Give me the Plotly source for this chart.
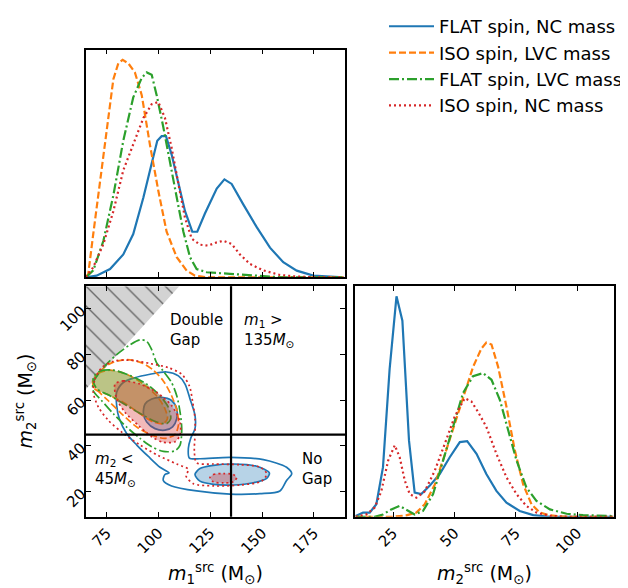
import plotly.graph_objects as go

# ---------------- series meta ----------------
labels = ["FLAT spin, NC mass", "ISO spin, LVC mass", "FLAT spin, LVC mass", "ISO spin, NC mass"]
colors = ["#1f77b4", "#ff7f0e", "#2ca02c", "#d62728"]
fills = ["rgba(31,119,180,0.32)", "rgba(255,127,14,0.32)", "rgba(44,160,44,0.32)", "rgba(214,39,40,0.32)"]
dashes = ["solid", "7px,3px", "10px,3px,2px,3px", "2px,3px"]

# ---------------- m1 marginals (relative density) ----------------
flat_nc_m1 = [65, 70.1, 76.6, 83.0, 87.8, 92.7, 96.7, 99.4, 101.5, 103.6, 106.3, 109.6, 112.8, 116.3, 118.7,
              122.4, 128.1, 131.8, 135.3, 140.9, 147.4, 153.8, 160.2, 166.7, 174.7, 189.2]
flat_nc_p1 = [0, .007, .036, .10, .19, .35, .50, .60, .62, .62, .54, .41, .29, .20, .20,
              .28, .39, .43, .41, .32, .22, .13, .066, .029, .007, 0]
iso_lvc_m1 = [65, 66.1, 68.5, 71.8, 75.0, 78.2, 80.6, 82.7, 85.4, 88.6, 91.9, 95.9, 99.9, 103.9, 108.8,
              113.6, 117.6, 123.2, 189.2]
iso_lvc_p1 = [0, .015, .19, .42, .65, .87, .94, .955, .94, .90, .80, .58, .38, .20, .088,
              .029, .007, 0, 0]
flat_lvc_m1 = [65, 68.5, 73.4, 78.2, 83.0, 87.8, 91.9, 94.3, 96.7, 99.1, 102.3, 105.5, 108.8, 112.0, 115.2,
               118.4, 123.2, 134.5, 145.8, 152.2, 158.6, 189.2]
flat_lvc_p1 = [0, .03, .16, .36, .60, .79, .876, .90, .89, .80, .66, .50, .35, .20, .088,
               .036, .022, .015, .007, .003, 0, 0]
iso_nc_m1 = [65, 68.5, 73.4, 78.2, 83.0, 87.8, 92.7, 96.7, 99.9, 103.1, 106.3, 109.6, 112.8, 116.0, 120.0,
             124.0, 128.1, 131.3, 135.3, 139.3, 144.2, 150.6, 158.6, 166.7, 174.7, 189.2]
iso_nc_p1 = [0, .044, .146, .29, .47, .58, .70, .76, .77, .70, .57, .41, .26, .17, .143,
             .139, .153, .16, .146, .10, .058, .03, .01, .003, 0, 0]

# ---------------- m2 marginals (relative density) ----------------
flat_nc_m2 = [9.8, 12.8, 15.5, 18.2, 20.9, 23.6, 26.4, 28.8, 31.5, 33.8, 36.5, 39.9, 44.0, 48.1, 52.2,
              55.2, 59.0, 63.0, 67.1, 71.2, 76.6, 82.1, 88.9, 114.7]
flat_nc_p2 = [.003, .018, .018, .054, .215, .64, .956, .85, .33, .105, .098, .134, .185, .258, .324,
              .328, .273, .185, .112, .061, .025, .007, 0, 0]
iso_lvc_m2 = [9.8, 25.0, 30.4, 34.5, 37.9, 42.0, 46.1, 50.1, 54.2, 57.6, 61.0, 63.0, 65.1, 67.8, 71.2,
              74.6, 78.0, 81.4, 84.8, 88.9, 95.7, 114.7]
iso_lvc_p2 = [0, 0, .006, .018, .054, .14, .27, .40, .536, .65, .73, .755, .747, .65, .477,
              .288, .14, .054, .018, .006, 0, 0]
flat_lvc_m2 = [9.8, 17.5, 20.9, 24.3, 27.7, 30.4, 33.8, 37.2, 41.3, 45.4, 49.5, 53.5, 57.6, 61.7, 65.1,
               68.5, 71.9, 75.3, 79.3, 83.4, 88.9, 95.7, 102.4, 109.2, 114.7]
flat_lvc_p2 = [0, 0, .01, .032, .047, .032, .01, .025, .098, .244, .39, .536, .61, .623, .594,
               .507, .375, .244, .127, .069, .032, .013, .007, .004, .003]
iso_nc_m2 = [9.8, 14.1, 17.5, 20.2, 23.0, 25.7, 27.7, 29.8, 31.8, 34.5, 37.9, 42.0, 46.1, 50.1, 54.2,
             56.9, 59.6, 63.0, 67.1, 71.2, 75.3, 79.3, 83.4, 88.9, 95.7, 114.7]
iso_nc_p2 = [0, .01, .04, .11, .244, .31, .258, .156, .098, .083, .11, .2, .317, .434, .514,
             .5, .455, .39, .273, .171, .098, .047, .018, .004, 0, 0]

# ---------------- 2D credible contours (m1, m2) ----------------
flat_nc_outer_m1 = [79.8, 83.0, 88.6, 95.9, 103.9, 109.6, 112.8, 115.2, 117.6, 117.6, 115.5, 114.4, 114.9, 120.0,
                    134.5, 150.6, 161.8, 164.3, 161.8, 158.6, 149.0, 134.5, 118.4, 106.3, 102.3, 103.1, 105.1,
                    100.7, 95.1, 89.5, 84.6, 81.1, 79.8, 79.8]
flat_nc_outer_m2 = [63.5, 67.8, 69.9, 71.4, 72.4, 70.7, 67.1, 60.6, 53.4, 47.6, 43.3, 39.0, 34.7, 34.4,
                    35.0, 34.0, 30.7, 27.8, 24.9, 20.3, 19.1, 18.9, 20.3, 22.5, 24.9, 27.5, 28.2,
                    30.7, 35.4, 40.4, 45.5, 51.9, 57.7, 63.5]
flat_nc_inner_a_m1 = [93.5, 96.7, 101.5, 106.3, 108.8, 108.8, 106.8, 103.1, 98.3, 94.3, 92.7, 93.5]
flat_nc_inner_a_m2 = [58.4, 60.6, 61.3, 59.9, 56.3, 51.9, 48.4, 46.9, 47.6, 50.5, 54.1, 58.4]
flat_nc_inner_b_m1 = [117.6, 120.0, 126.5, 136.1, 147.4, 153.5, 152.2, 145.8, 136.1, 126.5, 120.0, 117.6]
flat_nc_inner_b_m2 = [27.5, 30.1, 31.5, 32.1, 31.1, 28.2, 25.8, 23.9, 22.9, 23.2, 24.6, 27.5]

iso_lvc_outer_m1 = [68.5, 71.8, 77.4, 84.6, 91.9, 97.5, 102.3, 106.3, 109.1, 109.6, 108.0, 103.1, 96.7, 89.5,
                    82.2, 75.8, 70.1, 68.5]
iso_lvc_outer_m2 = [68.5, 72.8, 76.4, 77.8, 76.4, 73.2, 68.5, 62.0, 54.8, 49.1, 45.1, 43.3, 44.8, 48.3,
                    54.1, 59.8, 64.9, 68.5]
iso_lvc_inner_m1 = [68.2, 71.0, 76.6, 84.6, 92.7, 99.1, 103.1, 104.3, 102.3, 97.5, 91.1, 83.0, 75.0, 69.3, 68.2]
iso_lvc_inner_m2 = [68.5, 71.8, 73.2, 71.4, 67.1, 62.0, 56.3, 52.0, 49.8, 50.5, 54.1, 59.1, 62.7, 64.9, 68.5]

flat_lvc_outer_m1 = [68.5, 73.4, 79.8, 86.2, 91.1, 94.3, 96.7, 99.1, 102.3, 106.3, 108.8, 110.4, 111.2, 110.4,
                     108.0, 102.3, 96.7, 91.1, 84.6, 78.2, 72.6, 68.5, 68.5]
flat_lvc_outer_m2 = [67.8, 74.3, 80.0, 84.3, 86.5, 85.8, 82.2, 76.4, 72.8, 67.8, 62.0, 54.8, 47.6, 40.4,
                     37.9, 37.6, 39.7, 43.3, 48.3, 54.1, 59.8, 64.2, 67.8]
flat_lvc_inner_m1 = [68.5, 71.8, 78.2, 86.2, 94.3, 100.7, 104.7, 105.9, 103.9, 99.1, 92.7, 84.6, 76.6, 70.1, 68.5]
flat_lvc_inner_m2 = [69.9, 72.8, 73.2, 70.9, 67.1, 62.0, 57.0, 52.0, 49.8, 50.5, 53.4, 57.7, 62.0, 65.2, 69.9]

iso_nc_outer_m1 = [68.5, 69.3, 72.6, 78.2, 86.2, 95.9, 104.7, 111.2, 114.9, 116.5, 117.6, 117.6, 117.3, 118.4,
                   126.5, 139.3, 149.0, 152.2, 149.8, 139.3, 126.5, 116.8, 113.3, 114.4, 108.8, 99.9, 91.1,
                   83.0, 75.8, 71.0, 68.5]
iso_nc_outer_m2 = [63.5, 69.2, 74.3, 77.1, 77.6, 76.1, 74.3, 71.4, 66.3, 59.1, 51.9, 44.8, 37.6, 32.6,
                   32.1, 31.8, 30.7, 27.8, 24.6, 22.9, 22.5, 23.5, 26.8, 29.7, 32.1, 35.8, 40.4,
                   45.5, 51.2, 57.0, 63.5]
iso_nc_inner_a_m1 = [79.0, 83.0, 91.1, 99.1, 106.3, 110.4, 110.4, 108.0, 102.3, 96.7, 90.3, 83.8, 79.8, 79.0]
iso_nc_inner_a_m2 = [67.1, 68.5, 67.1, 63.5, 57.7, 50.5, 44.8, 41.9, 41.6, 44.0, 49.0, 54.8, 60.6, 67.1]
iso_nc_inner_b_m1 = [124.8, 126.5, 131.3, 136.1, 137.7, 136.1, 131.3, 126.5, 124.8]
iso_nc_inner_b_m2 = [26.1, 27.5, 27.9, 27.5, 26.1, 24.3, 23.8, 24.3, 26.1]

# ---------------- thresholds / axes ----------------
m1_gap = 135
m2_gap = 45
m1_range = [65, 190]
m2_range = [9, 110]
m2_marg_range = [9.5, 115]
m1_ticks = [75, 100, 125, 150, 175]
m2_ticks = [20, 40, 60, 80, 100]
m2_marg_ticks = [25, 50, 75, 100]

# page places the figure with an 8px body margin
W, H, OFF = 620, 580, 8


def px(x):
    return (x - OFF) / W


def py(y):
    return 1 - (y - OFF) / H


FONT = "DejaVu Sans"
fig = go.Figure()

# unphysical region m2 > m1 (hatched)
fig.add_trace(go.Scatter(
    x=[m1_range[0], m1_range[0], m2_range[1]], y=[m1_range[0], m2_range[1], m2_range[1]],
    mode="lines", fill="toself", line=dict(width=0, color="rgba(0,0,0,0)"),
    fillcolor="#d3d3d3",
    fillpattern=dict(shape="\\", bgcolor="#d3d3d3", fgcolor="black", size=14, solidity=0.1),
    showlegend=False, hoverinfo="skip", xaxis="x", yaxis="y"))

outer = [(flat_nc_outer_m1, flat_nc_outer_m2), (iso_lvc_outer_m1, iso_lvc_outer_m2),
         (flat_lvc_outer_m1, flat_lvc_outer_m2), (iso_nc_outer_m1, iso_nc_outer_m2)]
inner = [[(flat_nc_inner_a_m1, flat_nc_inner_a_m2), (flat_nc_inner_b_m1, flat_nc_inner_b_m2)],
         [(iso_lvc_inner_m1, iso_lvc_inner_m2)],
         [(flat_lvc_inner_m1, flat_lvc_inner_m2)],
         [(iso_nc_inner_a_m1, iso_nc_inner_a_m2), (iso_nc_inner_b_m1, iso_nc_inner_b_m2)]]

for i in range(4):
    for (cx, cy) in inner[i]:
        fig.add_trace(go.Scatter(x=cx, y=cy, mode="lines", fill="toself", fillcolor=fills[i],
                                 line=dict(color=colors[i], width=1.7, dash=dashes[i], shape="spline", smoothing=0.8),
                                 showlegend=False, hoverinfo="skip", xaxis="x", yaxis="y"))
    ox, oy = outer[i]
    fig.add_trace(go.Scatter(x=ox, y=oy, mode="lines",
                             line=dict(color=colors[i], width=1.7, dash=dashes[i], shape="spline", smoothing=0.8),
                             showlegend=False, hoverinfo="skip", xaxis="x", yaxis="y"))

m1_marg = [(flat_nc_m1, flat_nc_p1), (iso_lvc_m1, iso_lvc_p1), (flat_lvc_m1, flat_lvc_p1), (iso_nc_m1, iso_nc_p1)]
m2_marg = [(flat_nc_m2, flat_nc_p2), (iso_lvc_m2, iso_lvc_p2), (flat_lvc_m2, flat_lvc_p2), (iso_nc_m2, iso_nc_p2)]
for i in range(4):
    fig.add_trace(go.Scatter(x=m1_marg[i][0], y=m1_marg[i][1], mode="lines", name=labels[i],
                             line=dict(color=colors[i], width=2.2, dash=dashes[i]),
                             showlegend=True, xaxis="x2", yaxis="y2"))
    fig.add_trace(go.Scatter(x=m2_marg[i][0], y=m2_marg[i][1], mode="lines", name=labels[i],
                             line=dict(color=colors[i], width=2.2, dash=dashes[i]),
                             showlegend=False, xaxis="x3", yaxis="y3"))

axis_common = dict(showline=True, linecolor="black", linewidth=1.5, showgrid=False, zeroline=False,
                   tickfont=dict(family=FONT, size=15, color="black"))
tick_style = dict(ticks="inside", ticklen=5, tickwidth=1.2, tickcolor="black", mirror="allticks")

colL = [px(86), px(345)]
colR = [px(355), px(614)]
rowT = [py(274), py(44)]
rowB = [py(516), py(283)]

fig.update_layout(
    width=W, height=H, margin=dict(l=0, r=0, t=0, b=0, pad=0),
    paper_bgcolor="white", plot_bgcolor="white",
    font=dict(family=FONT, color="black"),
    xaxis=dict(domain=colL, anchor="y", range=m1_range, tickvals=m1_ticks, tickangle=-45,
               **axis_common, **tick_style),
    yaxis=dict(domain=rowB, anchor="x", range=m2_range, tickvals=m2_ticks, tickangle=-45,
               **axis_common, **tick_style),
    xaxis2=dict(domain=colL, anchor="y2", range=m1_range, tickvals=m1_ticks, showticklabels=False,
                **axis_common, **tick_style),
    yaxis2=dict(domain=rowT, anchor="x2", range=[0, 1], showticklabels=False, ticks="", mirror=True,
                **axis_common),
    xaxis3=dict(domain=colR, anchor="y3", range=m2_marg_range, tickvals=m2_marg_ticks, tickangle=-45,
                **axis_common, **tick_style),
    yaxis3=dict(domain=rowB, anchor="x3", range=[0, 1], showticklabels=False, ticks="", mirror=True,
                **axis_common),
    legend=dict(x=px(384), y=py(2), xanchor="left", yanchor="top", itemwidth=45,
                font=dict(family=FONT, size=18, color="black"), bgcolor="rgba(0,0,0,0)"),
    shapes=[
        dict(type="line", xref="x", yref="y domain", x0=m1_gap, x1=m1_gap, y0=0, y1=1,
             line=dict(color="black", width=2.2), layer="above"),
        dict(type="line", xref="x domain", yref="y", x0=0, x1=1, y0=m2_gap, y1=m2_gap,
             line=dict(color="black", width=2.2), layer="above"),
    ],
)

ann_font = dict(family=FONT, size=15, color="black")
fig.add_annotation(x=104.6, y=90.6, xref="x", yref="y", text="Double<br>Gap", showarrow=False,
                   xanchor="left", yanchor="middle", align="left", font=ann_font)
fig.add_annotation(x=140.3, y=90.6, xref="x", yref="y",
                   text="<i>m</i><sub>1</sub> &gt;<br>135<i>M</i><sub>⊙</sub>", showarrow=False,
                   xanchor="left", yanchor="middle", align="left", font=ann_font)
fig.add_annotation(x=68.4, y=29.8, xref="x", yref="y",
                   text="<i>m</i><sub>2</sub> &lt;<br>45<i>M</i><sub>⊙</sub>", showarrow=False,
                   xanchor="left", yanchor="middle", align="left", font=ann_font)
fig.add_annotation(x=168.3, y=29.8, xref="x", yref="y", text="No<br>Gap", showarrow=False,
                   xanchor="left", yanchor="middle", align="left", font=ann_font)

title_font = dict(family=FONT, size=19, color="black")
fig.add_annotation(x=(colL[0] + colL[1]) / 2, y=py(573), xref="paper", yref="paper",
                   text="<i>m</i><sub>1</sub><sup>src</sup> (M<sub>⊙</sub>)", showarrow=False,
                   xanchor="center", yanchor="middle", font=title_font)
fig.add_annotation(x=(colR[0] + colR[1]) / 2, y=py(573), xref="paper", yref="paper",
                   text="<i>m</i><sub>2</sub><sup>src</sup> (M<sub>⊙</sub>)", showarrow=False,
                   xanchor="center", yanchor="middle", font=title_font)
fig.add_annotation(x=px(25), y=(rowB[0] + rowB[1]) / 2, xref="paper", yref="paper",
                   text="<i>m</i><sub>2</sub><sup>src</sup> (M<sub>⊙</sub>)", showarrow=False, textangle=-90,
                   xanchor="center", yanchor="middle", font=title_font)

fig.write_html("out.html")
